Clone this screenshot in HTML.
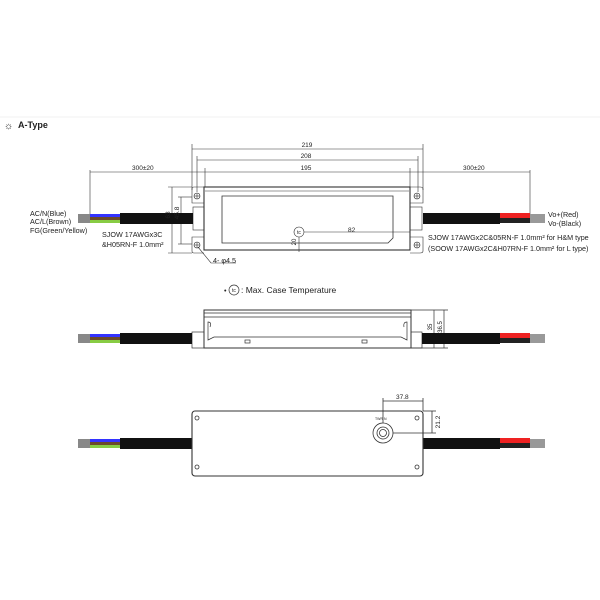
<!DOCTYPE html>
<html><head><style>body{margin:0;background:#fff}svg{display:block}text{font-family:"Liberation Sans",sans-serif;fill:#222}</style></head><body>
<svg width="600" height="600" viewBox="0 0 600 600" xmlns="http://www.w3.org/2000/svg">
<line x1="0" y1="117" x2="600" y2="117" stroke="#f2f2f2"/>
<text x="4" y="129" font-size="10" fill="#555">☼</text>
<text x="18" y="128" font-size="9" font-weight="bold">A-Type</text>

<!-- TOP VIEW -->
<g stroke="#333" fill="none" stroke-width="0.6">
<line x1="192" y1="149" x2="423" y2="149"/><line x1="192" y1="144" x2="192" y2="190"/><line x1="423" y1="144" x2="423" y2="190"/>
<line x1="197" y1="160" x2="418" y2="160"/><line x1="197" y1="156" x2="197" y2="192"/><line x1="418" y1="156" x2="418" y2="192"/>
<line x1="90" y1="172" x2="530" y2="172"/><line x1="205" y1="168" x2="205" y2="187"/><line x1="410" y1="168" x2="410" y2="187"/>
<line x1="90" y1="170" x2="90" y2="218"/><line x1="530" y1="170" x2="530" y2="218"/>
<line x1="168" y1="187" x2="192" y2="187"/><line x1="168" y1="253" x2="192" y2="253"/><line x1="172" y1="187" x2="172" y2="253"/>
<line x1="178" y1="197" x2="192" y2="197"/><line x1="178" y1="244" x2="192" y2="244"/><line x1="181" y1="197" x2="181" y2="244"/>
<rect x="204" y="187" width="206" height="63" stroke-width="1.1"/>
<line x1="205" y1="191" x2="409" y2="191"/>
<path d="M222 196 H393 V238 L388 243 H222 Z" stroke-width="0.8"/>
<path d="M204 187 H194 Q192 187 192 189 V203 H204" /><path d="M204 253 H194 Q192 253 192 251 V237 H204"/>
<path d="M410 187 H420 Q423 187 423 189 V203 H410"/><path d="M410 253 H420 Q423 253 423 251 V237 H410"/>
<rect x="193" y="207" width="11" height="23"/><rect x="410" y="207" width="12" height="23"/>
<circle cx="197" cy="196" r="3"/><circle cx="197" cy="245" r="3"/><circle cx="417" cy="196" r="3"/><circle cx="417" cy="245" r="3"/>
<line x1="194" y1="196" x2="200" y2="196"/><line x1="197" y1="193" x2="197" y2="199"/>
<line x1="194" y1="245" x2="200" y2="245"/><line x1="197" y1="242" x2="197" y2="248"/>
<line x1="414" y1="196" x2="420" y2="196"/><line x1="417" y1="193" x2="417" y2="199"/>
<line x1="414" y1="245" x2="420" y2="245"/><line x1="417" y1="242" x2="417" y2="248"/>
<circle cx="299" cy="232" r="5"/><line x1="304" y1="232" x2="410" y2="232"/><line x1="299" y1="237" x2="299" y2="252"/>
<path d="M198 247 L211 263 H236"/>
</g>
<text x="299" y="234" font-size="5" text-anchor="middle">tc</text>
<rect x="78" y="214" width="12" height="9" fill="#888"/>
<rect x="90" y="214" width="30" height="3" fill="#33f"/><rect x="90" y="217" width="30" height="3" fill="#6b4a2a"/><rect x="90" y="220" width="30" height="3" fill="#8c4"/>
<rect x="120" y="213" width="73" height="11" fill="#111"/>
<rect x="423" y="213" width="77" height="11" fill="#111"/>
<rect x="500" y="213" width="30" height="5" fill="#e22"/><rect x="500" y="218" width="30" height="5" fill="#222"/>
<rect x="530" y="214" width="15" height="9" fill="#999"/>
<g font-size="7.2">
<text x="132" y="170" font-size="6.5">300±20</text>
<text x="307" y="147" text-anchor="middle" font-size="6.5">219</text>
<text x="306" y="158" text-anchor="middle" font-size="6.5">208</text>
<text x="306" y="170" text-anchor="middle" font-size="6.5">195</text>
<text x="463" y="170" font-size="6.5">300±20</text>
<text x="348" y="232" font-size="6.5">82</text>
<text x="296" y="242" font-size="6" text-anchor="middle" transform="rotate(-90 296 242)">20</text>
<text x="170" y="215" font-size="6.5" text-anchor="middle" transform="rotate(-90 170 215)">63</text>
<text x="179" y="213" font-size="6.5" text-anchor="middle" transform="rotate(-90 179 213)">45.8</text>
<text x="213" y="263">4- φ4.5</text>
<text x="30" y="216">AC/N(Blue)</text>
<text x="30" y="224">AC/L(Brown)</text>
<text x="30" y="233">FG(Green/Yellow)</text>
<text x="102" y="237">SJOW 17AWGx3C</text>
<text x="102" y="247">&amp;H05RN-F 1.0mm²</text>
<text x="548" y="217">Vo+(Red)</text>
<text x="548" y="226">Vo-(Black)</text>
<text x="428" y="240">SJOW 17AWGx2C&amp;05RN-F 1.0mm² for H&amp;M type</text>
<text x="428" y="251">(SOOW 17AWGx2C&amp;H07RN-F 1.0mm² for L type)</text>
<text x="224" y="293">•</text>
<circle cx="234" cy="290" r="5" fill="none" stroke="#333" stroke-width="0.7"/>
<text x="234" y="292" font-size="5" text-anchor="middle">tc</text>
<text x="241" y="293" font-size="8.5">: Max. Case Temperature</text>
</g>

<!-- SIDE VIEW -->
<g stroke="#333" fill="none" stroke-width="0.7">
<rect x="204" y="310" width="207" height="38" stroke-width="1"/>
<line x1="204" y1="313" x2="411" y2="313"/><line x1="204" y1="317" x2="411" y2="317"/>
<path d="M210 327 Q212 322 208 322 V340 L214 337 H401 L407 340 V322 Q403 322 404 327"/>
<rect x="192" y="332" width="12" height="16"/><rect x="411" y="332" width="11" height="16"/>
<rect x="245" y="340" width="5" height="3"/><rect x="362" y="340" width="5" height="3"/>
<line x1="411" y1="310" x2="448" y2="310"/><line x1="411" y1="348" x2="448" y2="348"/>
<line x1="434" y1="310" x2="434" y2="348"/><line x1="444" y1="310" x2="444" y2="348"/>
</g>
<text x="432" y="327" font-size="6" text-anchor="middle" transform="rotate(-90 432 327)">35</text>
<text x="442" y="327" font-size="6" text-anchor="middle" transform="rotate(-90 442 327)">36.5</text>
<rect x="78" y="334" width="12" height="9" fill="#888"/>
<rect x="90" y="334" width="30" height="3" fill="#33f"/><rect x="90" y="337" width="30" height="3" fill="#6b4a2a"/><rect x="90" y="340" width="30" height="3" fill="#8c4"/>
<rect x="120" y="333" width="72" height="11" fill="#111"/>
<rect x="422" y="333" width="78" height="11" fill="#111"/>
<rect x="500" y="333" width="30" height="5" fill="#e22"/><rect x="500" y="338" width="30" height="5" fill="#222"/>
<rect x="530" y="334" width="15" height="9" fill="#999"/>

<!-- BOTTOM VIEW -->
<rect x="78" y="439" width="12" height="9" fill="#888"/>
<rect x="90" y="439" width="30" height="3" fill="#33f"/><rect x="90" y="442" width="30" height="3" fill="#6b4a2a"/><rect x="90" y="445" width="30" height="3" fill="#8c4"/>
<rect x="120" y="438" width="72" height="11" fill="#111"/>
<rect x="423" y="438" width="77" height="11" fill="#111"/>
<rect x="500" y="438" width="30" height="5" fill="#e22"/><rect x="500" y="443" width="30" height="5" fill="#222"/>
<rect x="530" y="439" width="15" height="9" fill="#999"/>
<g stroke="#333" fill="none" stroke-width="0.8">
<rect x="192" y="411" width="231" height="65" rx="3" stroke-width="1.1"/>
<circle cx="197" cy="418" r="2"/><circle cx="197" cy="467" r="2"/><circle cx="417" cy="418" r="2"/><circle cx="417" cy="467" r="2"/>
<circle cx="383" cy="433" r="10"/><circle cx="383" cy="433" r="6"/><circle cx="383" cy="433" r="3.5"/>
<line x1="383" y1="398" x2="383" y2="423"/><line x1="423" y1="398" x2="423" y2="411"/><line x1="383" y1="401" x2="423" y2="401"/>
<line x1="423" y1="411" x2="436" y2="411"/><line x1="393" y1="433" x2="436" y2="433"/><line x1="432" y1="411" x2="432" y2="433"/>
</g>
<text x="396" y="399" font-size="6.5">37.8</text>
<text x="440" y="422" font-size="6.5" text-anchor="middle" transform="rotate(-90 440 422)">21.2</text>
<text x="375" y="420" font-size="3.5">TWR N</text>
</svg>
</body></html>
